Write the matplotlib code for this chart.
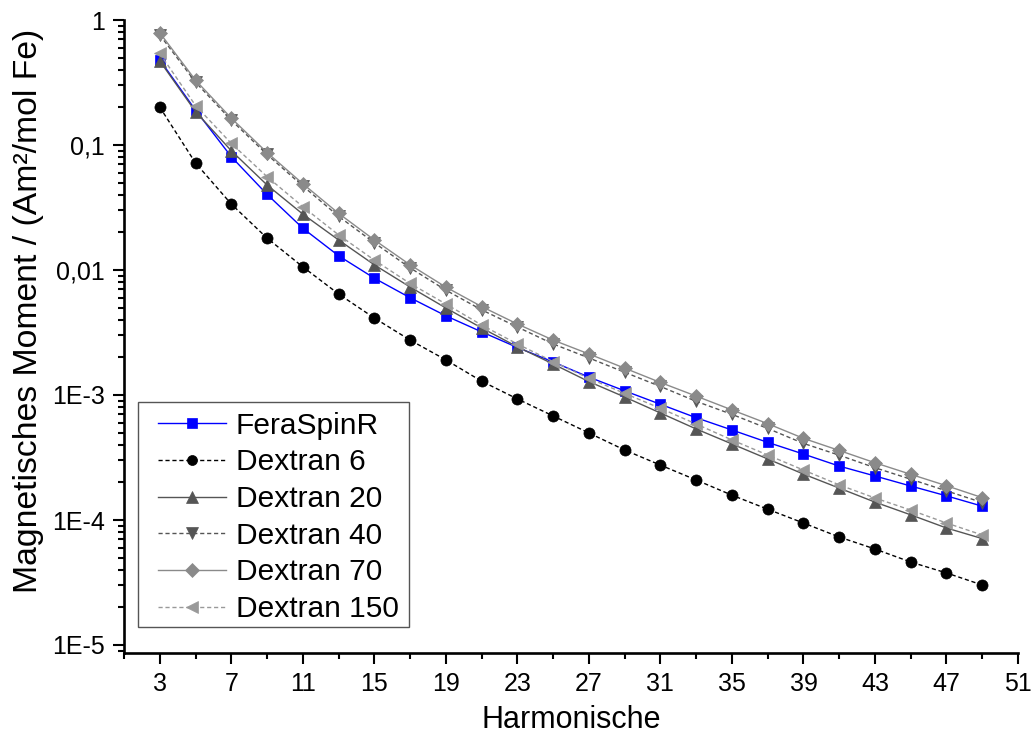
import matplotlib
matplotlib.use("Agg")
import matplotlib.pyplot as plt
from matplotlib.patches import Rectangle
from matplotlib.ticker import FixedLocator, FixedFormatter, LogLocator, NullFormatter
import numpy as np

plt.rcParams['font.family'] = ['Liberation Sans', 'DejaVu Sans']

harmonics = list(range(3, 50, 2))

ferraspin = [0.48, 0.19, 0.0806, 0.0403, 0.0216, 0.013, 0.0086, 0.006, 0.0043, 0.0032,
             0.0024, 0.00184, 0.00139, 0.00108, 8.43e-4, 6.58e-4, 5.25e-4, 4.18e-4,
             3.37e-4, 2.70e-4, 2.25e-4, 1.87e-4, 1.56e-4, 1.29e-4]
dextran6 = [0.201, 0.0718, 0.0337, 0.018, 0.0106, 0.00643, 0.00413, 0.00275, 0.00191,
            0.00129, 9.3e-4, 6.8e-4, 4.97e-4, 3.63e-4, 2.75e-4, 2.09e-4, 1.58e-4,
            1.22e-4, 9.46e-5, 7.31e-5, 5.86e-5, 4.61e-5, 3.77e-5, 3.02e-5]
dextran20 = [0.47, 0.185, 0.09, 0.0479, 0.028, 0.0174, 0.011, 0.00731, 0.00497, 0.00344,
             0.00243, 0.00177, 0.00128, 9.64e-4, 7.18e-4, 5.35e-4, 4.06e-4, 3.08e-4,
             2.33e-4, 1.80e-4, 1.39e-4, 1.10e-4, 8.63e-5, 7.1e-5]
dextran40 = [0.76, 0.318, 0.158, 0.084, 0.047, 0.0269, 0.0165, 0.0104, 0.0069, 0.0048,
             0.0035, 0.00256, 0.00198, 0.00152, 0.00117, 8.9e-4, 7.0e-4, 5.4e-4,
             4.1e-4, 3.3e-4, 2.62e-4, 2.12e-4, 1.71e-4, 1.38e-4]
dextran70 = [0.79, 0.33, 0.164, 0.087, 0.049, 0.0284, 0.0174, 0.011, 0.0073, 0.0051,
             0.0037, 0.00275, 0.00213, 0.00164, 0.00126, 9.8e-4, 7.6e-4, 5.9e-4,
             4.5e-4, 3.6e-4, 2.87e-4, 2.32e-4, 1.88e-4, 1.51e-4]
dextran150 = [0.54, 0.207, 0.103, 0.0558, 0.0321, 0.0191, 0.012, 0.0078, 0.00535, 0.00363,
              0.00256, 0.00185, 0.00136, 1.03e-3, 7.83e-4, 5.86e-4, 4.37e-4, 3.31e-4,
              2.51e-4, 1.91e-4, 1.50e-4, 1.20e-4, 9.46e-5, 7.59e-5]

series_labels = ["FeraSpinR", "Dextran 6", "Dextran 20", "Dextran 40", "Dextran 70", "Dextran 150"]

x_major = list(range(3, 52, 4))
x_minor = list(range(1, 52, 4))
y_ticks = [1e-5, 1e-4, 1e-3, 1e-2, 1e-1, 1]
y_ticklabels = ["1E-5", "1E-4", "1E-3", "0,01", "0,1", "1"]

fig = plt.figure(figsize=(10.31, 7.35), dpi=100)
ax = fig.add_axes([124 / 1031, 1 - 653 / 735, (1018 - 124) / 1031, (653 - 20) / 735])

styles = [
    dict(color="#0000ff", ls="-", marker="s", ms=7.5),
    dict(color="#000000", ls=(0, (3, 2)), marker="o", ms=8),
    dict(color="#555555", ls="-", marker="^", ms=9),
    dict(color="#555555", ls=(0, (3, 2)), marker="v", ms=9),
    dict(color="#8a8a8a", ls="-", marker="D", ms=7.5),
    dict(color="#999999", ls=(0, (3, 2)), marker="<", ms=9),
]
data = [ferraspin, dextran6, dextran20, dextran40, dextran70, dextran150]

for vals, lab, st in zip(data, series_labels, styles):
    ax.plot(harmonics, vals, color=st["color"], linestyle=st["ls"], linewidth=1.0,
            marker=st["marker"], markersize=st["ms"], markerfacecolor=st["color"],
            markeredgecolor=st["color"], markeredgewidth=0.5, label=lab)

ax.set_yscale("log")
ax.set_xlim(1, 51)
ax.set_ylim(10 ** -5.064, 1)

ax.xaxis.set_major_locator(FixedLocator(x_major))
ax.xaxis.set_minor_locator(FixedLocator(x_minor))
ax.yaxis.set_major_locator(FixedLocator(y_ticks))
ax.yaxis.set_major_formatter(FixedFormatter(y_ticklabels))
ax.yaxis.set_minor_locator(LogLocator(base=10, subs=np.arange(2, 10), numticks=20))
ax.yaxis.set_minor_formatter(NullFormatter())

for s in ["top", "right"]:
    ax.spines[s].set_visible(False)
for s in ["left", "bottom"]:
    ax.spines[s].set_linewidth(1.9)

ax.tick_params(axis="both", which="major", direction="out", length=8, width=1.5,
               labelsize=18, pad=6)
ax.tick_params(axis="both", which="minor", direction="out", length=4.3, width=1.5)

ax.set_xlabel("Harmonische", fontsize=22, labelpad=6)
ax.set_ylabel("Magnetisches Moment / (Am²/mol Fe)", fontsize=24.3)
ax.yaxis.set_label_coords(-0.0895, 0.54)

# legend entries without their own frame; a plain box is drawn around them below
leg = ax.legend(loc="lower left", bbox_to_anchor=(0.038, 0.0474), fontsize=21.5,
                numpoints=1, handlelength=2.27, handletextpad=0.33, labelspacing=0.29,
                borderpad=0.0, borderaxespad=0.0, frameon=False, markerscale=0.9)

fig.canvas.draw()
bb = leg.get_window_extent()
pad_l, pad_r, pad_b, pad_t = 20, 11, 4, 10
box = Rectangle((bb.x0 - pad_l, bb.y0 - pad_b), bb.width + pad_l + pad_r,
                bb.height + pad_b + pad_t, transform=None, facecolor="white",
                edgecolor="#555555", linewidth=1.0, zorder=leg.get_zorder() - 0.1)
ax.add_artist(box)

fig.savefig("out.png", dpi=100)
